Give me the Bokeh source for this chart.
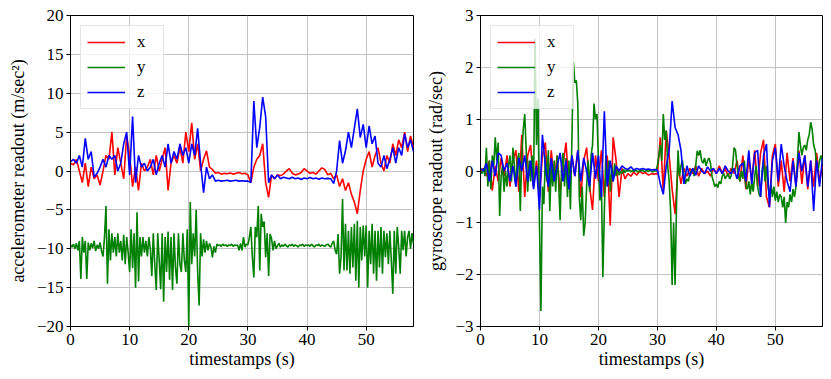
from bokeh.plotting import figure
from bokeh.layouts import row
from bokeh.models import Range1d, FixedTicker, CustomJSTickFormatter, Legend, LegendItem
from bokeh.embed import file_html
from bokeh.resources import INLINE

# sample spacing (s)
DT_XZ = 0.5
DT_Y = 0.25

X_TICKS = [0, 10, 20, 30, 40, 50]
ACC_Y_TICKS = [-20, -15, -10, -5, 0, 5, 10, 15, 20]
GYRO_Y_TICKS = [-3, -2, -1, 0, 1, 2, 3]
SERIES_LABELS = ["x", "y", "z"]

# accelerometer x (0.5 s spacing)
acc_x = [
    1.0, 0.8, 1.5, 0.0, -1.5, 1.0, -2.0, 0.5, -1.0, -0.5,
    -1.8, 0.0, 2.0, 1.5, 5.0, -0.5, 3.0, 1.0, -1.0, 4.5,
    2.0, -2.0, 0.5, -2.5, 1.0, 0.0, 0.5, 1.5, -0.5, 2.0,
    0.0, 1.5, 3.0, -2.5, 1.0, 2.0, 1.0, 3.0, 1.0, 5.0,
    2.5, 6.2, 1.5, 3.5, 0.0, 1.5, 2.6, 0.5, 0.2, -0.3,
    -0.2, -0.4, -0.3, -0.35, -0.25, -0.4, -0.3, -0.2, -0.35, -0.3,
    -0.5, -1.5, 0.5, 1.5, 2.0, 3.5, -1.5, -3.4, -0.5, -1.0,
    -0.5, -0.6, -0.4, 0.0, 0.3, -0.3, -0.5, -0.4, -0.2, 0.3,
    0.0, -0.3, -0.2, -0.4, 0.0, 0.4, 0.2, -0.5, -0.3, -1.0,
    -0.5, -2.0, -1.0, -2.5, -1.5, -3.0, -4.0, -5.5, -2.5, 0.0,
    1.5, 2.5, 0.5, 2.0, 3.0, 1.0, 0.0, 2.0, 1.0, 3.5,
    2.0, 4.0, 3.0, 5.0, 2.5, 4.5, 3.0,
]

# accelerometer y (0.25 s spacing)
acc_y = [
    -9.5, -9.8, -9.4, -10.0, -9.3, -10.2, -9.0, -13.9, -8.5, -10.5, -9.0, -13.9, -9.2, -10.2, -9.3, -9.9, -9.0, -10.3, -9.5, -10.0,
    -9.2, -10.3, -11.0, -8.5, -4.5, -14.5, -7.5, -11.5, -8.0, -10.5, -8.5, -11.0, -8.0, -10.5, -9.0, -11.5, -8.2, -12.0, -8.5, -10.5,
    -13.0, -7.5, -12.5, -8.0, -15.0, -5.3, -14.2, -8.5, -11.0, -8.5, -10.5, -9.0, -11.0, -8.5, -10.0, -13.5, -8.0, -12.0, -15.3, -8.0,
    -11.5, -15.2, -8.0, -16.8, -8.5, -13.0, -7.8, -14.0, -8.5, -15.3, -8.0, -12.5, -14.5, -8.0, -12.0, -13.0, -8.0, -11.5, -13.0, -7.5,
    -20.0, -4.0, -12.0, -8.0, -11.0, -5.0, -13.0, -17.3, -8.0, -11.0, -8.8, -10.5, -9.0, -10.2, -9.3, -9.8, -11.1, -9.7, -10.5, -9.4,
    -9.6, -9.5, -9.7, -9.4, -9.6, -9.5, -9.7, -9.5, -9.6, -9.4, -9.7, -9.5, -9.6, -9.5, -10.2, -9.3, -10.2, -8.5, -9.8, -9.4,
    -9.5, -8.5, -7.2, -11.1, -13.7, -7.2, -8.5, -4.5, -12.8, -5.5, -7.2, -6.5, -11.1, -8.0, -13.5, -8.1, -8.7, -10.2, -9.0, -10.0,
    -9.6, -9.3, -9.8, -9.5, -9.7, -9.4, -9.6, -9.8, -9.5, -9.6, -9.4, -9.7, -9.5, -9.6, -9.8, -9.5, -9.6, -9.4, -9.7, -9.5,
    -9.6, -9.5, -9.7, -9.4, -9.6, -9.8, -9.5, -9.6, -9.4, -9.7, -9.5, -9.6, -9.7, -9.5, -9.4, -9.6, -9.8, -9.3, -9.0, -10.2,
    -10.7, -8.1, -13.2, -11.1, -3.6, -12.8, -6.8, -12.8, -7.7, -13.2, -7.2, -12.4, -6.8, -14.1, -6.4, -15.0, -7.2, -11.5, -7.0, -11.0,
    -7.0, -15.0, -7.7, -12.0, -6.8, -13.2, -7.7, -14.1, -7.7, -12.4, -7.2, -13.2, -7.7, -11.1, -8.0, -12.0, -7.7, -11.5, -15.8, -7.7,
    -13.2, -7.2, -9.8, -13.2, -7.7, -10.2, -7.7, -11.0, -8.5, -7.7, -10.0, -8.0, -9.4,
]

# accelerometer z (0.5 s spacing)
acc_z = [
    1.2, 1.5, 1.0, 2.0, 0.5, 4.2, 1.5, 2.5, -0.8, -0.3,
    0.5, 1.5, 0.5, 2.0, 1.5, 2.0, 0.0, 1.0, 3.5, 5.0,
    -0.5, 7.0, -1.5, 2.0, 0.5, 1.0, 0.0, 0.5, 1.5, -0.5,
    1.0, 2.0, 0.5, 3.5, 1.0, 2.5, 1.5, 3.5, 2.0, 3.0,
    1.0, 3.5, 2.0, 5.5, 1.0, -2.8, 0.5, -1.0, -0.5, -1.3,
    -1.2, -1.3, -1.25, -1.2, -1.3, -1.25, -1.2, -1.3, -1.25, -1.3,
    -1.3, -1.5, 9.0, 3.0, 5.6, 9.5, 7.0, -1.5, -0.5, -1.0,
    -0.5, -1.0, -0.8, -0.9, -1.0, -0.8, -1.0, -0.9, -1.1, -0.9,
    -1.0, -0.85, -1.0, -0.9, -1.05, -0.9, -1.0, -0.95, -1.0, -1.6,
    0.0, 3.9, 1.0, 2.6, 5.0, 3.0, 5.5, 8.0, 4.3, 6.0,
    3.0, 5.8, 3.5, 4.5, 1.0, 0.5, 2.0, 0.3, 1.5, 3.0,
    1.0, 3.0, 2.0, 4.8, 3.0, 4.0, 2.5,
]

# gyroscope x (0.5 s spacing)
gyro_x = [
    0.0, 0.05, -0.1, 0.2, -0.38, 0.1, -0.2, 0.25, -0.1, 0.3,
    -0.3, 0.2, 0.4, -0.4, 0.7, -0.5, 0.3, 0.5, -0.3, 0.2,
    -0.5, 0.3, 0.55, -0.4, 0.4, -0.2, 0.3, -0.4, 0.1, 0.55,
    -0.3, 0.3, -0.1, 0.4, -0.5, 0.2, 0.45, -0.3, -0.75, 0.3,
    -0.2, 0.4, -0.5, 0.3, -1.05, 0.65, 0.2, -0.5, 0.05, -0.15,
    -0.05, -0.1, -0.02, -0.08, 0.0, -0.05, -0.03, -0.08, -0.05, -0.06,
    -0.05, 0.65, -0.38, 0.78, 0.3, -0.35, -0.83, 0.1, -0.25, 0.05,
    -0.1, 0.05, -0.05, 0.1, -0.1, 0.05, -0.05, 0.0, -0.1, 0.05,
    -0.05, 0.1, -0.05, 0.05, -0.1, 0.05, -0.05, 0.2, -0.2, 0.3,
    -0.35, 0.25, -0.2, 0.4, -0.3, 0.35, 0.6, -0.5, -0.7, 0.3,
    0.52, -0.3, 0.2, -0.4, 0.35, -0.2, 0.25, -0.3, 0.4, -0.25,
    0.3, -0.35, 0.2, -0.3, 0.35, -0.2, 0.1,
]

# gyroscope y (0.25 s spacing)
gyro_y = [
    0.0, -0.05, 0.05, -0.1, 0.45, -0.3, 0.2, -0.35, 0.3, 0.1, 0.65, 0.2, 0.55, -0.87, -0.1, 0.1, -0.4, 0.0, -0.3, 0.1,
    0.3, -0.2, 0.45, 0.1, -0.3, 0.2, 0.35, -0.77, 0.3, 0.8, 1.1, 0.4, -0.4, 0.2, -0.2, 0.3, -0.3, 2.55, 0.5, 1.4,
    -1.0, -2.7, -0.3, -0.64, 0.3, -0.2, 0.4, -0.77, 0.1, -0.3, 0.2, -0.4, 0.3, -0.2, -0.95, 0.1, 0.35, -0.3, 0.25, -0.5,
    0.2, -0.74, 0.6, 2.1, 1.7, 1.75, 1.3, -0.5, -0.95, -0.3, -1.25, -1.0, -0.3, 0.2, -0.4, 0.3, 0.5, 1.3, 1.0, 1.1,
    0.2, -0.57, -0.2, -2.05, -0.8, 0.3, -0.3, 0.2, -0.4, 0.1, -0.2, 0.15, -0.1, 0.05, -0.08, 0.0, -0.05, 0.03, -0.03, 0.02,
    0.0, 0.02, -0.02, 0.01, -0.01, 0.02, 0.0, -0.02, 0.01, 0.0, 0.02, -0.01, 0.0, 0.01, -0.01, 0.02, 0.0, -0.02, 0.01, 0.0,
    0.1, 0.3, 0.5, 0.2, 1.1, 0.6, 0.78, 0.1, -0.2, -0.8, -2.2, -1.0, -2.2, -0.6, 0.4, -0.1, 0.1, 0.2, -0.1, -0.25,
    -0.15, -0.2, -0.05, 0.0, 0.05, -0.1, 0.1, 0.39, 0.3, 0.4, 0.2, 0.15, 0.25, 0.1, 0.2, 0.25, 0.15, -0.1, -0.2, -0.3,
    -0.25, -0.32, -0.2, -0.25, -0.1, -0.05, -0.15, -0.1, -0.05, -0.15, -0.1, 0.1, 0.45, 0.4, 0.1, -0.1, -0.2, 0.0, -0.15, 0.2,
    -0.3, -0.35, -0.2, -0.45, -0.2, -0.4, -0.1, 0.1, -0.3, -0.45, -0.5, 0.0, 0.2, -0.2, 0.1, -0.3, -0.45, -0.25, -0.5, -0.3,
    -0.57, -0.4, -0.6, -0.45, -0.5, -0.7, -0.5, -1.0, -0.6, -0.7, -0.45, -0.6, -0.35, -0.5, -0.3, 0.2, 0.75, 0.5, 0.3, 0.45,
    0.5, 0.4, 0.6, 0.7, 0.94, 0.8, 0.5, 0.4, 0.1, 0.0, 0.2, 0.3, 0.15,
]

# gyroscope z (0.5 s spacing)
gyro_z = [
    0.05, 0.0, 0.15, -0.2, 0.2, -0.1, 0.35, 0.3, 0.0, 0.15,
    -0.2, 0.1, -0.3, 0.25, 0.0, 0.3, -0.2, 0.2, -0.35, 0.1,
    -0.75, 0.7, 0.1, -0.3, 0.25, -0.2, 0.1, 0.35, -0.2, 0.2,
    -0.35, 0.3, -0.1, 0.4, -0.2, 0.25, 0.0, -0.3, 0.35, -0.15,
    0.3, -0.5, 1.15, -0.3, 0.2, -0.2, 0.1, 0.0, 0.1, 0.05,
    0.03, 0.08, 0.02, 0.05, 0.03, 0.05, 0.03, 0.04, 0.02, 0.03,
    0.02, -0.25, -0.45, 0.1, 0.4, 1.35, 0.84, 0.7, 0.4, -0.25,
    0.1, -0.1, 0.05, -0.08, 0.1, 0.0, -0.05, 0.08, 0.0, 0.05,
    -0.05, 0.05, -0.05, 0.1, 0.0, -0.05, 0.05, -0.15, 0.1, 0.15,
    -0.2, 0.4, -0.25, 0.35, 0.4, -0.5, 0.3, 0.52, -0.7, 0.2,
    0.45, -0.2, 0.52, 0.1, -0.2, -0.4, 0.2, -0.3, 0.35, 0.0,
    0.3, -0.3, 0.2, -0.77, 0.2, -0.3, 0.25,
]

FONT = "Liberation Serif"
COLORS = ["#ff0000", "#008000", "#0000ff"]


def times(vals, dt):
    return [round(i * dt, 4) for i in range(len(vals))]


def make_panel(ylabel, yrange, yticks, series, width, left_border, right_border):
    p = figure(width=width, height=378, x_range=Range1d(0, 58), y_range=Range1d(*yrange),
               output_backend="svg", toolbar_location=None,
               min_border_left=left_border, min_border_right=right_border,
               min_border_top=15, min_border_bottom=52)
    p.background_fill_color = "white"
    p.border_fill_color = "white"
    p.outline_line_color = "black"
    p.outline_line_width = 1
    p.outline_line_alpha = 1

    renderers = []
    for (vals, dt), color in zip(series, COLORS):
        r = p.line(times(vals, dt), vals, line_color=color, line_width=1.6)
        renderers.append(r)

    p.xaxis.ticker = FixedTicker(ticks=X_TICKS)
    p.yaxis.ticker = FixedTicker(ticks=yticks)
    p.yaxis.formatter = CustomJSTickFormatter(
        code="return (tick < 0 ? '\u2212' : '') + Math.abs(tick);")
    p.xaxis.axis_label = "timestamps (s)"
    p.yaxis.axis_label = ylabel
    for ax in (p.xaxis, p.yaxis):
        ax.axis_label_text_font = FONT
        ax.axis_label_text_font_size = "18px"
        ax.axis_label_text_font_style = "normal"
        ax.axis_label_text_color = "black"
        ax.major_label_text_font = FONT
        ax.major_label_text_font_size = "17px"
        ax.major_label_text_color = "black"
        ax.axis_line_color = "black"
        ax.major_tick_line_color = "black"
        ax.major_tick_out = 4
        ax.major_tick_in = 0
        ax.minor_tick_line_color = None
        ax.major_label_standoff = 3
    p.xaxis.axis_label_standoff = 1
    p.yaxis.axis_label_standoff = 6

    p.grid.grid_line_color = "#c2c2c2"
    p.grid.grid_line_width = 1

    legend = Legend(items=[LegendItem(label=lab, renderers=[r])
                           for lab, r in zip(SERIES_LABELS, renderers)],
                    location="top_left")
    legend.margin = 10
    legend.padding = 6
    legend.spacing = 5
    legend.glyph_width = 38
    legend.glyph_height = 20
    legend.label_height = 20
    legend.label_standoff = 12
    legend.label_text_font = FONT
    legend.label_text_font_size = "17px"
    legend.label_text_color = "black"
    legend.border_line_color = "#cccccc"
    legend.border_line_width = 1
    legend.background_fill_color = "white"
    legend.background_fill_alpha = 0.8
    p.add_layout(legend)
    return p


p1 = make_panel("accelerometer readout (m/sec\u00b2)", (-20, 20), ACC_Y_TICKS,
                [(acc_x, DT_XZ), (acc_y, DT_Y), (acc_z, DT_XZ)], 418, 70, 5)
p2 = make_panel("gyroscope readout (rad/sec)", (-3, 3), GYRO_Y_TICKS,
                [(gyro_x, DT_XZ), (gyro_y, DT_Y), (gyro_z, DT_XZ)], 406, 62, 2)

layout = row(p1, p2)
open("out.html", "w").write(file_html(layout, INLINE))
